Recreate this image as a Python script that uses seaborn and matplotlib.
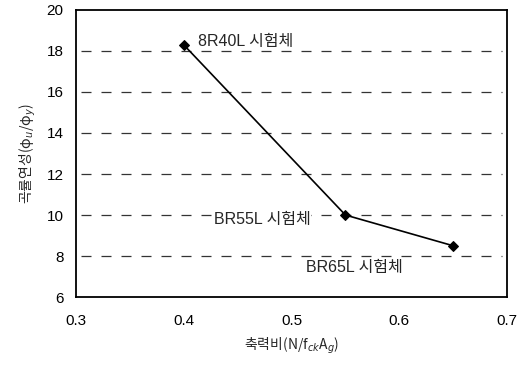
import matplotlib
matplotlib.use("Agg")
import matplotlib.pyplot as plt
import seaborn as sns
import pandas as pd

axial_ratio = [0.40, 0.55, 0.65]
ductility = [18.3, 10.0, 8.5]
specimens = ["8R40L 시험체", "BR55L 시험체", "BR65L 시험체"]
x_ticks = [0.3, 0.4, 0.5, 0.6, 0.7]
x_tick_labels = ["0.3", "0.4", "0.5", "0.6", "0.7"]
y_ticks = [6, 8, 10, 12, 14, 16, 18, 20]

sns.set_theme(style="white")
plt.rcParams['font.family'] = ['Noto Sans CJK KR', 'DejaVu Sans']

df = pd.DataFrame({"x": axial_ratio, "y": ductility})

fig = plt.figure(figsize=(5.31, 3.69), dpi=100)
ax = fig.add_axes([0.143, 0.195, 0.812, 0.778])

for yv in y_ticks[1:-1]:
    ax.plot([0.305, 0.695], [yv, yv], color="#333333", lw=0.9,
            dashes=(8, 8), zorder=1)

sns.lineplot(data=df, x="x", y="y", ax=ax, color="black", lw=1.2,
             marker="D", markersize=5, markeredgecolor="black", zorder=3)

offsets = [(0.013, 0.15), (-0.122, -0.2), (-0.137, -1.05)]
for (xv, yv), lab, (dx, dy) in zip(zip(axial_ratio, ductility), specimens, offsets):
    ax.text(xv + dx, yv + dy, lab, fontsize=11.5, va="center", ha="left",
            family=['Liberation Sans', 'Noto Sans CJK KR'],
            bbox=dict(facecolor="white", edgecolor="none", pad=0.5), zorder=2)

ax.set_xlim(0.3, 0.7)
ax.set_ylim(6, 20)
ax.set_xticks(x_ticks)
ax.set_xticklabels(x_tick_labels)
ax.set_yticks(y_ticks)
ax.tick_params(axis="y", length=0, labelsize=11, pad=9, colors="black")
ax.tick_params(axis="x", length=0, labelsize=11, pad=12, colors="black")
for lbl in ax.get_xticklabels() + ax.get_yticklabels():
    lbl.set_family(['Liberation Sans', 'DejaVu Sans'])
for s in ax.spines.values():
    s.set_color("black")
    s.set_linewidth(1.3)

ax.set_xlabel("축력비(N/f$_{ck}$A$_g$)", fontsize=10, labelpad=6)
ax.set_ylabel("곡률연성(φ$_u$/φ$_y$)", fontsize=10, labelpad=6)

fig.savefig("out.png", dpi=100)
